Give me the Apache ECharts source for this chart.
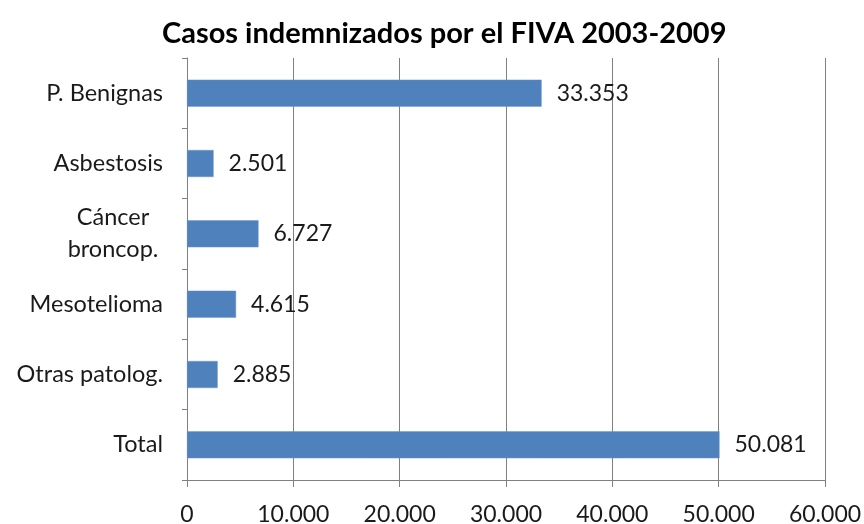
<!DOCTYPE html>
<html>
<head>
<meta charset="utf-8">
<script src="https://cdn.jsdelivr.net/npm/echarts@6/dist/echarts.min.js"></script>
<style>
  html, body { margin: 0; padding: 0; background: #fff; }
  #chart { width: 864px; height: 524px; }
</style>
</head>
<body>
<div id="chart"></div>
<script>
var categories = ["P. Benignas", "Asbestosis", "Cáncer\nbroncop.", "Mesotelioma", "Otras patolog.", "Total"];
var casos = [33353, 2501, 6727, 4615, 2885, 50081];

function fmt(v) {
    return String(v).replace(/\B(?=(\d{3})+(?!\d))/g, ".");
}

var chart = echarts.init(document.getElementById("chart"));
chart.setOption({
    animation: false,
    textStyle: { fontFamily: "Lato, 'Open Sans', sans-serif" },
    title: {
        text: "Casos indemnizados por el FIVA 2003-2009",
        left: 157,
        top: 14,
        textStyle: { fontSize: 29, fontWeight: "bold", color: "#000", fontFamily: "Lato, 'Open Sans', sans-serif" }
    },
    grid: { left: 187, right: 39, top: 58, bottom: 44, containLabel: false, outerBoundsMode: "none" },
    xAxis: {
        type: "value",
        min: 0,
        max: 60000,
        interval: 10000,
        axisLine: { show: true, lineStyle: { color: "#808080" } },
        axisTick: { show: true, length: 7, lineStyle: { color: "#808080" } },
        splitLine: { show: true, lineStyle: { color: "#808080", width: 1 } },
        axisLabel: { fontSize: 23, color: "#1a1a1a", margin: 23, formatter: fmt }
    },
    yAxis: {
        type: "category",
        inverse: true,
        data: categories,
        axisLine: { show: true, lineStyle: { color: "#808080" } },
        axisTick: { show: true, length: 5, lineStyle: { color: "#808080" } },
        axisLabel: {
            fontSize: 23.5,
            color: "#1a1a1a",
            margin: 24,
            formatter: function (v) {
                if (v.indexOf("\n") >= 0) return "{c|" + v + "}";
                return v;
            },
            rich: { c: { fontSize: 23.5, color: "#1a1a1a", align: "center", width: 100, lineHeight: 32 } }
        }
    },
    series: [{
        type: "bar",
        data: casos,
        barWidth: 27,
        itemStyle: { color: "#4F81BD", borderColor: "#6a96cc", borderWidth: 0.5 },
        label: {
            show: true,
            position: "right",
            distance: 15,
            fontSize: 23,
            color: "#1a1a1a",
            formatter: function (p) { return fmt(p.value); }
        }
    }]
});
</script>
</body>
</html>
